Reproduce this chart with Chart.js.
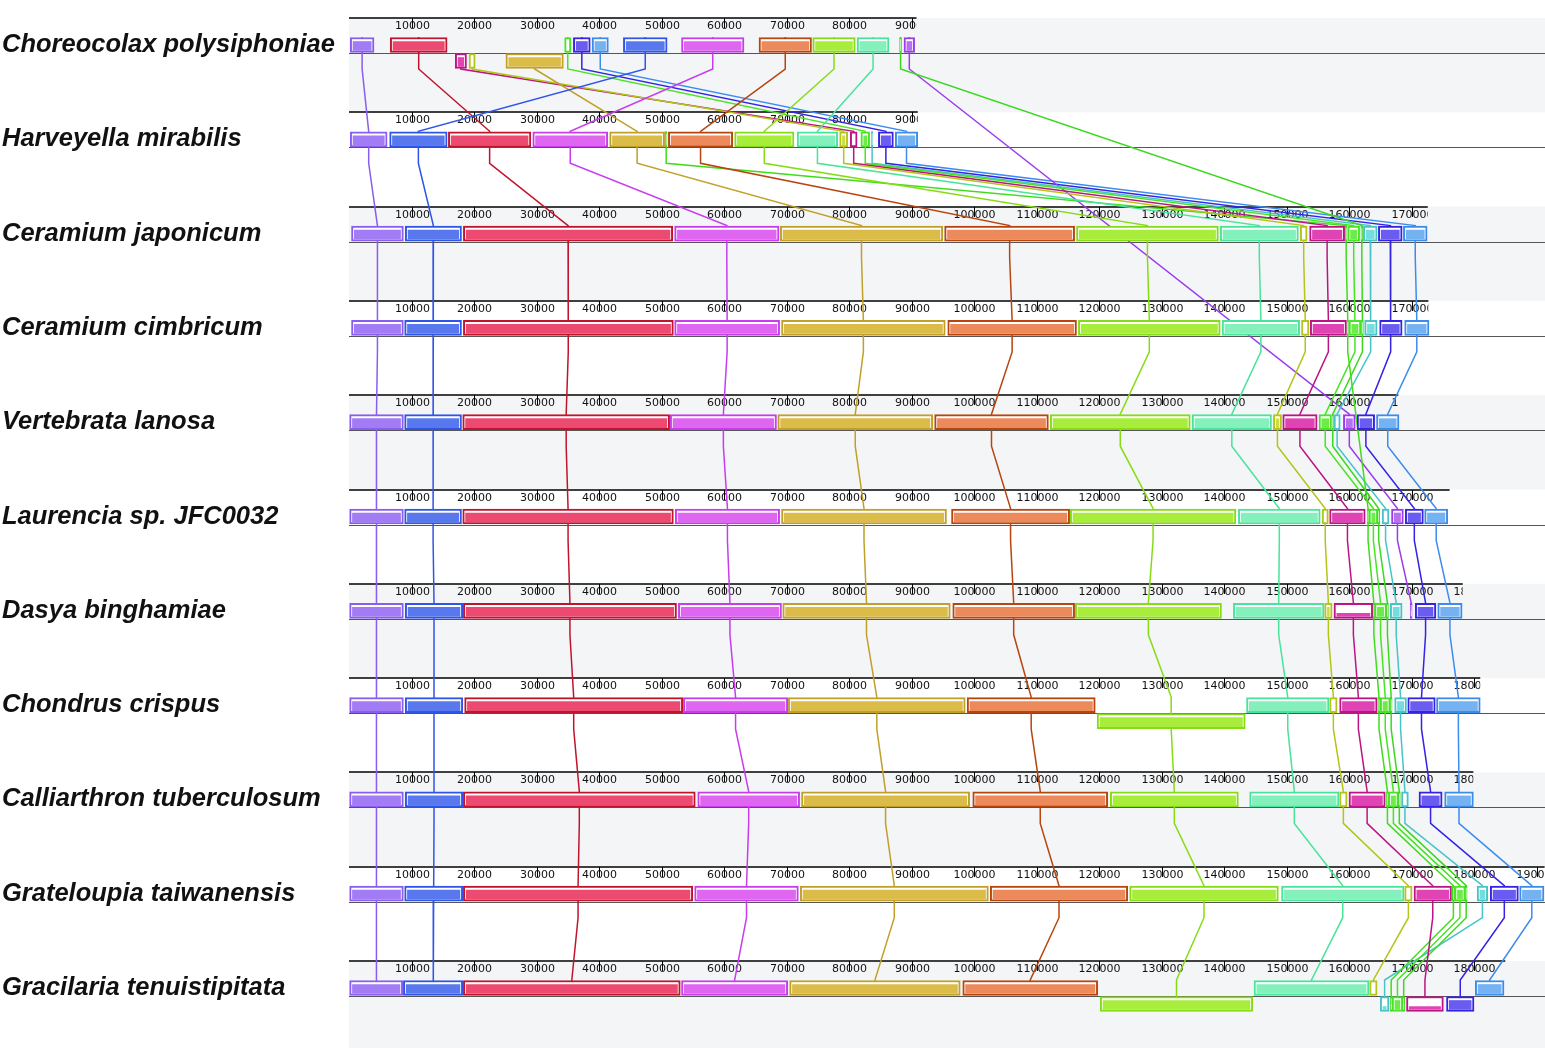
<!DOCTYPE html>
<html><head><meta charset="utf-8">
<script src="https://cdn.jsdelivr.net/npm/chart.js@4.4.1/dist/chart.umd.min.js"></script>
<style>html,body{margin:0;padding:0;background:#fff;overflow:hidden}canvas{display:block}</style>
</head><body>
<canvas id="c" width="1545" height="1048"></canvas>
<script>
// ---------------- DATA ----------------
const genomeNames = ['Choreocolax polysiphoniae','Harveyella mirabilis','Ceramium japonicum','Ceramium cimbricum','Vertebrata lanosa','Laurencia sp. JFC0032','Dasya binghamiae','Chondrus crispus','Calliarthron tuberculosum','Grateloupia taiwanensis','Gracilaria tenuistipitata'];
const genomeLengthsKb = [90.8, 91.0, 172.6, 172.7, 167.9, 176.1, 178.2, 181.0, 179.9, 191.3, 185.0];
const tickStepBp = 10000;
const lcbIds = ['P','B','R','M','G','O','L','A','Y','K','g1','g2','g3','C','V','I','S'];
// blocks: [LCB id, start kb, end kb, strand, profile shown]
const blocksChoreocolax = [['P',0.2,4.0,1],['R',6.6,15.7,1],['K',17.0,18.8,-1],['Y',19.2,20.2,-1],['G',25.1,34.3,-1],['g2',34.5,35.5,1],['I',35.9,38.6,1],['S',38.9,41.5,1],['B',43.9,50.9,1],['M',53.2,63.2,1],['O',65.6,74.0,1],['L',74.2,81.0,1],['A',81.3,86.4,1],['g3',88.1,88.4,1],['V',88.8,90.5,1]];
const blocksHarveyella = [['P',0.2,6.1,1],['B',6.5,15.7,1],['R',15.9,29.1,1],['M',29.4,41.4,1],['G',41.7,50.5,1],['g1',50.6,50.9,1],['O',51.1,61.4,1],['L',61.7,71.2,1],['A',71.7,78.2,1],['Y',78.5,79.8,1],['K',80.2,81.3,1],['g2',81.9,83.3,1],['C',83.6,83.8,1],['I',84.7,87.1,1],['S',87.4,91.0,1]];
const blocksCeramiumJ = [['P',0.4,8.7,1],['B',9.0,18.0,1],['R',18.3,51.8,1],['M',52.1,68.8,1],['G',69.0,95.0,1],['O',95.3,116.1,1],['L',116.4,139.1,1],['A',139.4,151.9,1],['Y',152.2,153.3,1],['K',153.7,159.3,1],['g1',159.4,159.7,1],['g2',159.8,161.7,1],['g3',161.9,162.2,1],['C',162.3,164.5,1],['I',164.7,168.5,1],['S',168.7,172.5,1]];
const blocksCeramiumC = [['P',0.4,8.7,1],['B',8.9,18.0,1],['R',18.3,51.9,1],['M',52.1,68.9,1],['G',69.2,95.4,1],['O',95.8,116.4,1],['L',116.7,139.4,1],['A',139.7,152.1,1],['Y',152.4,153.6,1],['K',153.8,159.6,1],['g1',159.7,159.9,1],['g2',160.0,161.9,1],['g3',162.0,162.3,1],['C',162.5,164.5,1],['I',164.9,168.5,1],['S',168.9,172.8,1]];
const blocksVertebrata = [['P',0.1,8.7,1],['B',8.9,18.0,1],['R',18.2,51.3,1],['M',51.4,68.4,1],['G',68.6,93.4,1],['O',93.7,111.9,1],['L',112.2,134.6,1],['A',134.9,147.6,1],['Y',147.9,149.2,1],['K',149.4,154.9,1],['g2',155.2,157.2,1],['g3',157.3,157.5,1],['C',157.6,158.6,1],['V',159.1,161.0,1],['I',161.3,164.1,1],['S',164.4,168.0,1]];
const blocksLaurencia = [['P',0.1,8.7,1],['B',8.9,18.0,1],['R',18.2,51.9,1],['M',52.2,68.9,1],['G',69.2,95.6,1],['O',96.4,115.3,1],['L',115.4,141.9,1],['A',142.3,155.4,1],['Y',155.7,156.7,1],['K',156.9,162.6,1],['g1',162.9,163.2,1],['g2',163.2,164.6,1],['g3',164.6,164.9,1],['C',165.3,166.4,1],['V',166.8,168.7,1],['I',169.0,171.9,1],['S',172.1,175.8,1]];
const blocksDasya = [['P',0.1,8.7,1],['B',9.0,18.2,1],['R',18.3,52.4,1],['M',52.7,69.2,1],['G',69.4,96.2,1],['O',96.6,116.1,1],['L',116.2,139.6,1],['A',141.5,156.0,1],['Y',156.1,157.3,1],['K',157.6,163.8,1,0],['g1',163.85,164.1,1],['g2',164.1,166.0,1],['g3',166.0,166.3,1],['C',166.6,168.5,1],['V',169.8,170.1,1],['I',170.6,173.9,1],['S',174.2,178.1,1]];
const blocksChondrus = [['P',0.1,8.7,1],['B',9.0,18.2,1],['R',18.5,53.4,1],['M',53.5,70.2,1],['G',70.3,98.6,1],['O',98.9,119.4,1],['L',119.7,143.4,-1],['A',143.6,156.8,1],['Y',156.9,158.1,1],['K',158.5,164.5,1],['g1',164.6,165.0,1],['g2',165.0,166.6,1],['g3',166.6,166.9,1],['C',167.3,169.2,1],['I',169.4,173.8,1],['S',174.0,181.0,1]];
const blocksCalliarthron = [['P',0.1,8.7,1],['B',9.0,18.2,1],['R',18.3,55.4,1],['M',55.8,72.1,1],['G',72.4,99.3,1],['O',99.8,121.4,1],['L',121.8,142.3,1],['A',144.1,158.4,1],['Y',158.5,159.7,1],['K',160.0,165.8,1],['g1',166.0,166.3,1],['g2',166.3,167.9,1],['g3',167.9,168.2,1],['C',168.4,169.5,1],['I',171.2,174.9,1],['S',175.3,179.9,1]];
const blocksGrateloupia = [['P',0.1,8.7,1],['B',8.9,18.2,1],['R',18.3,55.0,1],['M',55.3,71.9,1],['G',72.2,102.3,1],['O',102.6,124.6,1],['L',124.9,148.7,1],['A',149.2,168.8,1],['Y',168.9,170.1,1],['K',170.4,176.4,1],['g1',176.5,176.9,1],['g2',176.9,178.6,1],['g3',178.6,178.9,1],['C',180.5,182.2,1],['I',182.6,187.1,1],['S',187.3,191.2,1]];
const blocksGracilaria = [['P',0.1,8.6,1],['B',8.7,18.2,1],['R',18.3,53.0,1],['M',53.2,70.2,1],['G',70.5,97.8,1],['O',98.2,119.8,1],['L',120.2,144.6,-1],['A',144.8,163.2,1],['Y',163.3,164.5,1],['C',165.0,166.4,-1,0],['g1',166.6,166.9,-1],['g2',166.9,168.6,-1],['g3',168.6,168.9,-1],['K',169.2,175.1,-1,0],['I',175.6,180.0,-1],['S',180.2,184.8,1]];
const genomeBlocks = [blocksChoreocolax,blocksHarveyella,blocksCeramiumJ,blocksCeramiumC,blocksVertebrata,blocksLaurencia,blocksDasya,blocksChondrus,blocksCalliarthron,blocksGrateloupia,blocksGracilaria];

// ---------------- STYLE ----------------
const lcbBorder = {P:'#8a5cf0',B:'#2f55e8',R:'#c0142c',M:'#c83cee',G:'#c0a028',O:'#b8440e',L:'#86dc14',A:'#48e49a',Y:'#b4c418',K:'#bc1484',g1:'#40dc1c',g2:'#48e424',g3:'#3cd820',C:'#48c4c8',V:'#9a3cee',I:'#3422e6',S:'#3c8cee'};
const lcbFill = {P:'#a17cf4',B:'#5a78ee',R:'#ec4a70',M:'#de66f0',G:'#dcbc48',O:'#ec8a5c',L:'#a8ec3c',A:'#84f0bc',Y:'#ccdc44',K:'#e044b4',g1:'#6cec48',g2:'#6cec48',g3:'#6cec48',C:'#74dede',V:'#b870f2',I:'#6a5cf0',S:'#74b2f2'};
const trackTop0 = 18, trackGap = 94.3;
const trackY = gi => trackTop0 + gi * trackGap;

// ---------------- BUILD ----------------
const boxData = [], profData = [];
genomeBlocks.forEach((blocks, gi) => {
  const y0 = trackY(gi);
  blocks.forEach(([id, s, e, str, prof]) => {
    const c = str > 0 ? y0 + 27 : y0 + 43;
    boxData.push({x: [s * 1000, e * 1000], y: c, lcb: id});
    const ph = prof === 0 ? 3 : 9;
    if (e - s > 1.2) profData.push({x: [s * 1000 + 450, e * 1000 - 450], y: c + 5.5 - ph / 2, lcb: id, ph});
  });
});
const lineSets = lcbIds.map(id => {
  const occ = [];
  genomeBlocks.forEach((blocks, gi) => { const b = blocks.find(b => b[0] === id); if (b) occ.push([gi, b]); });
  const pts = [];
  occ.forEach(([gi, b], k) => {
    const y0 = trackY(gi), mid = (b[1] + b[2]) / 2 * 1000;
    const first = k === 0, last = k === occ.length - 1;
    pts.push({x: mid, y: (first && b[3] < 0) ? y0 + 43 : y0 + 19});
    pts.push({x: mid, y: last ? (b[3] < 0 ? y0 + 43 : y0 + 27) : y0 + 51});
  });
  return {type: 'line', data: pts, borderColor: lcbBorder[id], borderWidth: 1.5, pointRadius: 0, fill: false, tension: 0, showLine: true, order: 3};
});
const profThin = profData.filter(d => d.ph === 3), profFull = profData.filter(d => d.ph !== 3);

const trackPlugin = {
  id: 'tracks',
  beforeDatasetsDraw(chart) {
    const {ctx, scales: {x, y}} = chart;
    const left = x.getPixelForValue(0), right = chart.width;
    ctx.save();
    genomeNames.forEach((n, gi) => {
      if (gi % 2 === 0) {
        const y0 = y.getPixelForValue(trackY(gi));
        const y1 = gi === genomeNames.length - 1 ? chart.height : y.getPixelForValue(trackY(gi + 1));
        ctx.fillStyle = '#f4f5f7';
        ctx.fillRect(left, y0, right - left, y1 - y0);
      }
    });
    genomeNames.forEach((n, gi) => {
      const y0 = Math.round(y.getPixelForValue(trackY(gi)));
      const end = x.getPixelForValue(genomeLengthsKb[gi] * 1000);
      ctx.strokeStyle = '#555'; ctx.lineWidth = 1;
      ctx.beginPath(); ctx.moveTo(left, y0 + 35.5); ctx.lineTo(right, y0 + 35.5); ctx.stroke();
      ctx.strokeStyle = '#000'; ctx.lineWidth = 1.5;
      ctx.beginPath(); ctx.moveTo(left, y0); ctx.lineTo(end, y0); ctx.stroke();
      ctx.save();
      ctx.beginPath(); ctx.rect(left, y0 - 2, end - left, 18); ctx.clip();
      ctx.font = '11px "DejaVu Sans"'; ctx.fillStyle = '#111'; ctx.textAlign = 'center'; ctx.textBaseline = 'middle';
      ctx.lineWidth = 1; ctx.strokeStyle = '#000';
      for (let t = tickStepBp; t <= genomeLengthsKb[gi] * 1000 + 6000; t += tickStepBp) {
        const px = Math.round(x.getPixelForValue(t)) + 0.5;
        ctx.fillText(String(t), px, y0 + 8);
        ctx.beginPath(); ctx.moveTo(px, y0); ctx.lineTo(px, y0 + 10); ctx.stroke();
      }
      ctx.restore();
    });
    ctx.restore();
  },
  afterDraw(chart) {
    const {ctx, scales: {y}} = chart;
    ctx.save();
    ctx.font = 'italic bold 25.5px "Liberation Sans", Arial, sans-serif';
    ctx.fillStyle = '#111'; ctx.textAlign = 'left'; ctx.textBaseline = 'middle';
    genomeNames.forEach((n, gi) => ctx.fillText(n, 2, y.getPixelForValue(trackY(gi)) + 27));
    ctx.restore();
  }
};

new Chart(document.getElementById('c'), {
  type: 'scatter',
  data: {datasets: [
    ...lineSets,
    {type: 'bar', indexAxis: 'y', data: boxData, grouped: false, barThickness: 15, borderWidth: 2, borderSkipped: false,
      borderColor: ctx => ctx.raw ? lcbBorder[ctx.raw.lcb] : '#000', backgroundColor: '#ffffff', order: 2},
    {type: 'bar', indexAxis: 'y', data: profFull, grouped: false, barThickness: 9, borderWidth: 0,
      backgroundColor: ctx => ctx.raw ? lcbFill[ctx.raw.lcb] : '#000', order: 1},
    {type: 'bar', indexAxis: 'y', data: profThin, grouped: false, barThickness: 3, borderWidth: 0,
      backgroundColor: ctx => ctx.raw ? lcbFill[ctx.raw.lcb] : '#000', order: 1}
  ]},
  options: {
    responsive: false, maintainAspectRatio: false, devicePixelRatio: 1, animation: false, events: [],
    layout: {padding: {left: 349, right: 0, top: 0, bottom: 0}},
    scales: {
      x: {type: 'linear', min: 0, max: 191360, offset: false, display: false},
      y: {type: 'linear', min: 0, max: 1048, reverse: true, offset: false, display: false}
    },
    plugins: {legend: {display: false}, tooltip: {enabled: false}}
  },
  plugins: [trackPlugin]
});
</script>
</body></html>
